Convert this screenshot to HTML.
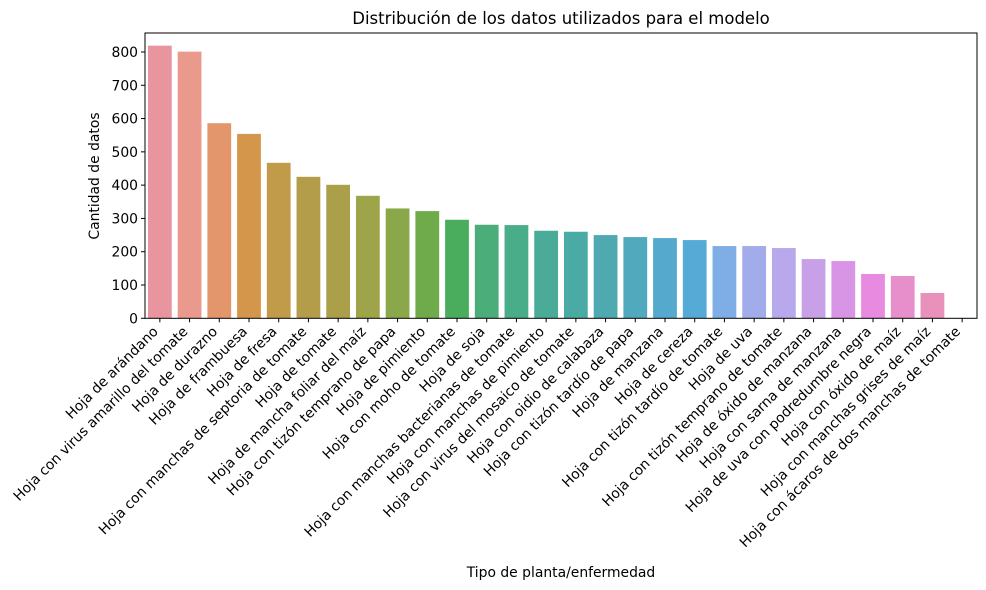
<!DOCTYPE html>
<html><head><meta charset="utf-8"><style>
html,body{margin:0;padding:0;background:#fff;}
svg{display:block;font-family:"DejaVu Sans","Liberation Sans",sans-serif;}
</style></head><body>
<svg id="chart" width="986" height="590" viewBox="0 0 986 590">
<text x="561" y="24" text-anchor="middle" font-size="16.5" fill="#000">Distribución de los datos utilizados para el modelo</text>
<g id="plot"></g>
<text x="561" y="577" text-anchor="middle" font-size="13.9" fill="#000">Tipo de planta/enfermedad</text>
<text transform="translate(99,176) rotate(-90)" text-anchor="middle" font-size="13.9" fill="#000">Cantidad de datos</text>
</svg>
<script>
const categories = ["Hoja de arándano","Hoja con virus amarillo del tomate","Hoja de durazno","Hoja de frambuesa","Hoja de fresa","Hoja con manchas de septoria de tomate","Hoja de tomate","Hoja de mancha foliar del maíz","Hoja con tizón temprano de papa","Hoja de pimiento","Hoja con moho de tomate","Hoja de soja","Hoja con manchas bacterianas de tomate","Hoja con manchas de pimiento","Hoja con virus del mosaico de tomate","Hoja con oidio de calabaza","Hoja con tizón tardío de papa","Hoja de manzana","Hoja de cereza","Hoja con tizón tardío de tomate","Hoja de uva","Hoja con tizón temprano de tomate","Hoja de óxido de manzana","Hoja con sarna de manzana","Hoja de uva con podredumbre negra","Hoja con óxido de maíz","Hoja con manchas grises de maíz","Hoja con ácaros de dos manchas de tomate"];
const values = [819,801,586,554,467,425,401,368,330,322,296,281,280,263,260,250,244,241,235,217,217,211,178,172,133,127,76,0];
const yTicks = [0,100,200,300,400,500,600,700,800];
const colors = ["#e8959f","#e99a8d","#e3966c","#d4964b","#c29b4a","#b39c4a","#ab9f4a","#9ea449","#8aa84a","#6fab4b","#4aad5e","#4aad7a","#4aad8a","#4aac98","#4aaba5","#4eaab0","#51a9bd","#54a9cc","#55aad6","#7faee6","#a3acea","#b8a8ec","#c7a0e8","#d894e5","#e78ae0","#e78fcb","#e891bb","#e898b0"];
const svgNS="http://www.w3.org/2000/svg";
const plot=document.getElementById('plot');
const L=145,R=977,T=33,B=318.3,yMax=857;
const n=categories.length, step=(R-L)/n;
const xc=i=>L+step*(i+0.5);
const y=v=>B-(v/yMax)*(B-T);
function mk(tag,attrs){const e=document.createElementNS(svgNS,tag);for(const k in attrs)e.setAttribute(k,attrs[k]);return e;}
values.forEach((v,i)=>{
  const r=mk('rect',{x:xc(i)-step*0.4,y:y(v),width:step*0.8,height:B-y(v),fill:colors[i%colors.length]});
  
  
  plot.appendChild(r);
  const t=mk('line',{x1:xc(i),x2:xc(i),y1:B,y2:B+4,stroke:'#000','stroke-width':1});
  
  
  plot.appendChild(t);
  const lx=xc(i)-1, ly=B+14;
  const lab=mk('text',{x:lx,y:ly,'text-anchor':'end','font-size':'13.9',transform:`rotate(-45 ${lx} ${ly})`});
  lab.textContent=categories[i];
  
  
  plot.appendChild(lab);
});
yTicks.forEach(v=>{
  const t=mk('line',{x1:L-4,x2:L,y1:y(v),y2:y(v),stroke:'#000','stroke-width':1});
  
  
  plot.appendChild(t);
  const lab=mk('text',{x:L-7,y:y(v)+5,'text-anchor':'end','font-size':'13.9'});
  lab.textContent=v;
  
  
  plot.appendChild(lab);
});
const frame=mk('rect',{x:L,y:T,width:R-L,height:B-T,fill:'none',stroke:'#000','stroke-width':1});


plot.appendChild(frame);
</script>
</body></html>
